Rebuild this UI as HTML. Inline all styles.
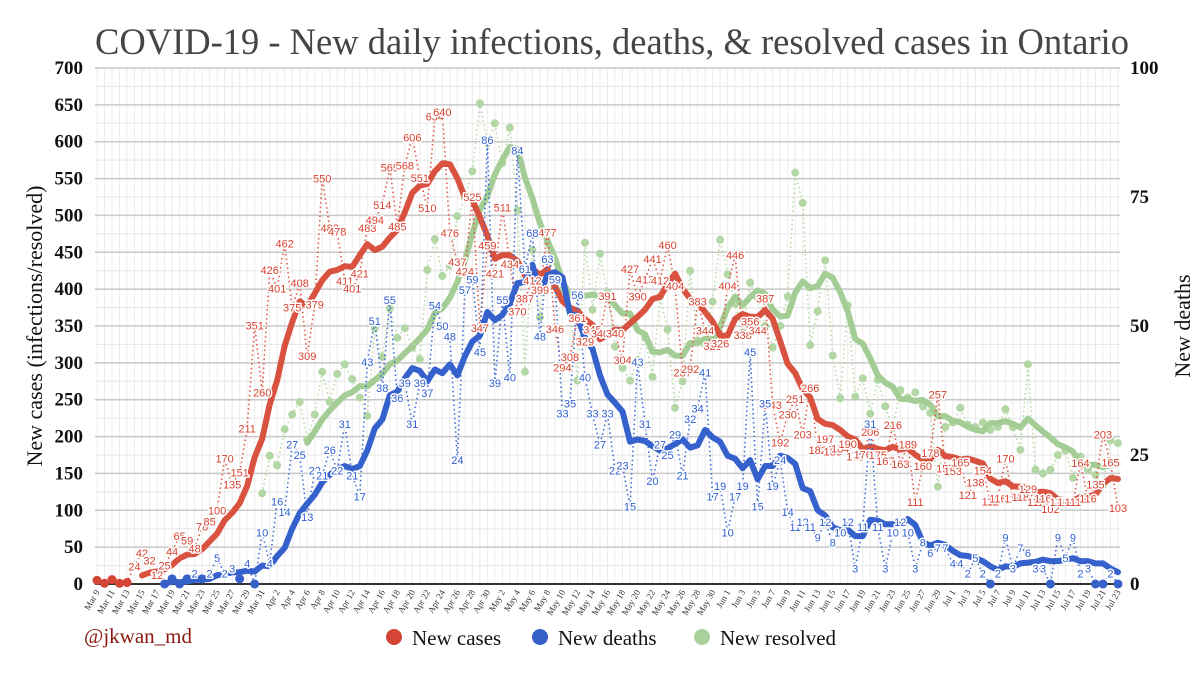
<!DOCTYPE html>
<html><head><meta charset="utf-8">
<style>
html,body{margin:0;padding:0;background:#fff;}
body{width:1200px;height:674px;overflow:hidden;}
svg text{font-family:"Liberation Serif",serif;}
.lbl{font-family:"Liberation Sans",sans-serif;font-size:11px;text-anchor:middle;paint-order:stroke;stroke:#fff;stroke-width:3px;stroke-linejoin:round;}
</style></head>
<body>
<svg id="chart" width="1200" height="674" viewBox="0 0 1200 674" xmlns="http://www.w3.org/2000/svg">
<text x="612" y="54" text-anchor="middle" font-size="36.5" fill="#454545">COVID-19 - New daily infections, deaths, &amp; resolved cases in Ontario</text>
<g id="grid"></g>
<g id="axes"></g>
<g id="series"></g>
<g id="labels"></g>
<text transform="translate(42,326) rotate(-90)" text-anchor="middle" font-size="22" fill="#111">New cases (infections/resolved)</text>
<text transform="translate(1190,326) rotate(-90)" text-anchor="middle" font-size="22" fill="#111">New deaths</text>
<text x="84" y="643" font-size="21" fill="#8b1a10">@jkwan_md</text>
<g>
<g><circle cx="394" cy="637" r="8" fill="#d44535"/><text x="412" y="645" font-size="21" fill="#111">New cases</text></g>
<g><circle cx="540" cy="637" r="8" fill="#3560c8"/><text x="558" y="645" font-size="21" fill="#111">New deaths</text></g>
<g><circle cx="702" cy="637" r="8" fill="#a9d09a"/><text x="720" y="645" font-size="21" fill="#111">New resolved</text></g>
</g>
</svg>
<script>
const months = ["Mar","Apr","May","Jun","Jul"];
const monthStart = [9,1,1,1,1];
const monthLen = [23,30,31,30,23];
const leftTicks = [0,50,100,150,200,250,300,350,400,450,500,550,600,650,700];
const rightTicks = [0,25,50,75,100];
const cases = [5,1,6,1,2,24,42,32,12,25,44,65,59,48,78,85,100,170,135,151,211,351,260,
426,401,462,375,408,309,379,550,483,478,411,401,421,483,494,514,565,485,568,606,551,510,634,640,476,437,424,525,347,459,
421,511,434,370,387,412,399,477,346,294,308,361,329,345,340,391,340,304,427,390,413,441,412,460,404,287,292,383,344,323,326,
404,446,338,356,344,387,243,192,230,251,203,266,182,197,180,184,190,173,176,206,175,167,216,163,189,111,160,178,257,157,
153,165,121,138,154,112,116,170,116,118,129,111,116,102,111,111,111,164,116,135,203,165,103];
const deaths = [null,null,null,null,null,null,null,null,null,0,1,0,1,2,1,2,5,2,3,1,4,0,10,
4,16,14,27,25,13,22,21,26,22,31,21,17,43,51,38,55,36,39,31,39,37,54,50,48,24,57,59,45,86,
39,55,40,84,61,68,48,63,59,33,35,56,40,33,27,33,22,23,15,43,31,20,27,25,29,21,32,34,41,17,19,
10,17,19,45,15,35,19,24,14,11,12,11,9,12,8,10,12,3,11,31,11,3,10,12,10,3,8,6,7,7,
4,4,2,5,2,0,2,9,3,7,6,3,3,0,9,5,9,2,3,0,0,2,0];
const resolved = [null,null,null,null,null,null,null,null,null,null,null,null,null,null,null,null,null,null,null,null,null,null,
123,174,161,210,230,247,196,230,288,247,285,298,278,253,228,347,308,374,334,347,321,305,426,468,418,432,499,524,560,652,598,
625,571,619,507,288,453,362,463,403,399,372,276,463,372,448,395,322,293,276,304,334,281,390,345,239,275,425,330,324,383,467,
420,380,341,409,388,350,321,350,390,558,517,324,370,439,310,252,378,254,279,231,277,241,212,263,253,260,241,232,132,213,
219,239,216,213,219,209,213,237,213,182,298,155,150,155,175,181,144,173,155,148,134,195,191];

const NS="http://www.w3.org/2000/svg";
const X0=97, X1=1118, Y0=584, Y1=68;
const N=cases.length;
function xs(i){return X0+(X1-X0)*i/(N-1);}
function yl(v){return Y0-(Y0-Y1)*v/700;}
function yr(v){return Y0-(Y0-Y1)*v/100;}
function mk(tag,attrs,parent){const e=document.createElementNS(NS,tag);for(const k in attrs)e.setAttribute(k,attrs[k]);parent.appendChild(e);return e;}
const grid=document.getElementById('grid'),axes=document.getElementById('axes'),ser=document.getElementById('series'),lab=document.getElementById('labels');
for(let i=0;i<N;i++){const l=mk('line',{x1:xs(i),x2:xs(i),y1:Y1,y2:Y0,stroke:'#ececec','stroke-width':1},grid);

}
for(let v=0;v<=700;v+=25){const l=mk('line',{x1:95,x2:1120,y1:yl(v),y2:yl(v),stroke:v%50?'#e6e6e6':'#c8c8c8','stroke-width':v%50?1:1.5},grid);

}
mk('line',{x1:95,x2:1120,y1:Y0,y2:Y0,stroke:'#333','stroke-width':2},axes);
leftTicks.forEach(v=>{const t=mk('text',{x:83,y:yl(v)+6,'text-anchor':'end','font-size':19,'font-weight':'bold',fill:'#111'},axes);t.textContent=v;

});
rightTicks.forEach(v=>{const t=mk('text',{x:1130,y:yr(v)+6,'font-size':19,'font-weight':'bold',fill:'#111'},axes);t.textContent=v;

});
let idx=0;
for(let m=0;m<months.length;m++){for(let d=0;d<monthLen[m];d++){const day=monthStart[m]+d;
 if(idx%2===0){const x=xs(idx);const t=mk('text',{transform:`translate(${x+3},${592}) rotate(-60)`,'text-anchor':'end','font-size':9,fill:'#333'},axes);t.textContent=months[m]+' '+day;
 
 }
 idx++;}}
function ma(arr,i){let s=0,c=0;for(let k=i-6;k<=i;k++){if(k>=0&&arr[k]!=null){s+=arr[k];c++;}}return c?s/c:null;}
function dotted(arr,yf,color,name){let p='';arr.forEach((v,i)=>{if(v!=null)p+=(p?'L':'M')+xs(i)+','+yf(v);});
 const e=mk('path',{d:p,fill:'none',stroke:color,'stroke-width':1.6,'stroke-dasharray':'1.5,3'},ser);
 
 }
function thick(arr,yf,color,start,name){let p='';for(let i=start;i<arr.length;i++){const v=ma(arr,i);if(v!=null)p+=(p?'L':'M')+xs(i)+','+yf(v);}
 const e=mk('path',{d:p,fill:'none',stroke:color,'stroke-width':6,'stroke-linejoin':'round','stroke-linecap':'round'},ser);
 
 }
dotted(resolved,yl,'#b5d9a7','resolved-daily-line');
resolved.forEach((v,i)=>{if(v==null)return;const c=mk('circle',{cx:xs(i),cy:yl(v),r:4,fill:'#b3d7a4'},ser);
 
 });
thick(resolved,yl,'#a3cd94',28,'resolved-average-line');
dotted(cases,yl,'#e0574a','cases-daily-line');
thick(cases,yl,'#d9513f',6,'cases-average-line');
dotted(deaths,yr,'#3e6bd6','deaths-daily-line');
thick(deaths,yr,'#3461cc',9,'deaths-average-line');
cases.forEach((v,i)=>{if(v<10){const c=mk('circle',{cx:xs(i),cy:yl(v),r:4.5,fill:'#d44535'},lab);
 
 return;}
 const t=mk('text',{x:xs(i),y:yl(v)+4,fill:'#d8402f',class:'lbl'},lab);t.textContent=v;
 
 });
deaths.forEach((v,i)=>{if(v==null)return;if(v<=1){const c=mk('circle',{cx:xs(i),cy:yr(v),r:4.5,fill:'#3560c8'},lab);
 
 return;}
 const t=mk('text',{x:xs(i),y:yr(v)+4,fill:'#2f5fd0',class:'lbl'},lab);t.textContent=v;
 
 });
</script>
</body></html>
